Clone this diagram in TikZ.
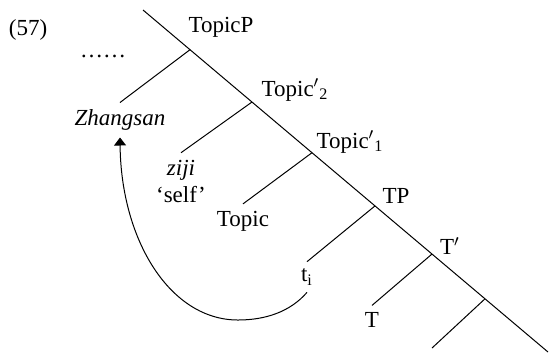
\documentclass[tikz,border=0pt]{standalone}
\usepackage{fontspec}
\setmainfont{Liberation Serif}
\usetikzlibrary{arrows.meta}

\begin{document}
\begin{tikzpicture}[
    x=0.5pt, y=-0.5pt,
    every node/.style={
        font=\fontsize{11.5}{13.5}\selectfont,
        align=center
    },
    branch/.style={line width=0.5pt},
    arrow/.style={-{Triangle[length=4pt,width=6pt]}, line width=0.5pt}
]
\useasboundingbox (0,0) rectangle (549,355);

% spine of the tree
\coordinate (top) at (143,10);
\coordinate (bot) at (548,352);
\coordinate (topicpb) at (190,49.7);
\coordinate (topic2b) at (252,102);
\coordinate (topic1b) at (312,152.7);
\coordinate (tpb) at (375,205.9);
\coordinate (tbarb) at (432,254);
\coordinate (vpb) at (485,298.8);
\coordinate (vpend) at (432,348);

\node (ex) at (28,30) {(57)};
\node (dots) at (103,56) {\ldots\ldots};

\node (topicp) at (221,27) {TopicP};
\node (topic2) at (295,90) {Topic$'$\textsubscript{2}};
\node (topic1) at (350,142) {Topic$'$\textsubscript{1}};
\node (tp) at (396,196) {TP};
\node (tbar) at (450,246) {T$'$};

\node (zhang) at (120,120) {\textit{Zhangsan}};
\node (ziji) at (181,181) {\textit{ziji}\\`self'};
\node (topic) at (243,221) {Topic};
\node (ti) at (307,277) {t\textsubscript{i}};
\node (t) at (372,320) {T};

\draw [branch] (top) -- (bot);
\draw [branch] (topicpb) -- (zhang.north);
\draw [branch] (topic2b) -- (ziji.north);
\draw [branch] (topic1b) -- (topic.north);
\draw [branch] (tpb) -- (ti.north);
\draw [branch] (tbarb) -- (t.north);
\draw [branch] (vpb) -- (vpend);

\draw [arrow] (ti.south) .. controls (290,312) and (265,320) .. (238,320)
    .. controls (170,320) and (121,240) .. (zhang.south);

\end{tikzpicture}
\end{document}
